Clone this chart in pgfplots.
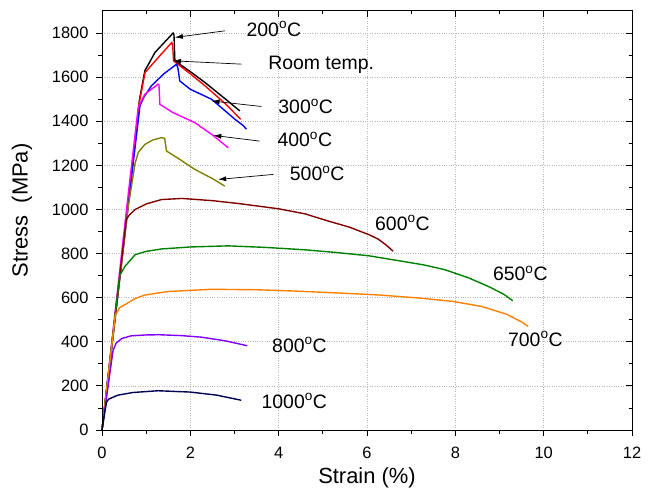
\documentclass[border=0pt]{standalone}
\usepackage{pgfplots}
\pgfplotsset{compat=1.18}
\usepackage{fontspec}
\setmainfont{Liberation Sans}
\usetikzlibrary{arrows.meta}

\definecolor{cMagenta}{RGB}{255,0,255}
\definecolor{cOlive}{RGB}{128,128,0}
\definecolor{cDarkRed}{RGB}{128,0,0}
\definecolor{cGreen}{RGB}{0,128,0}
\definecolor{cOrange}{RGB}{255,128,0}
\definecolor{cPurple}{RGB}{128,0,255}
\definecolor{cNavy}{RGB}{0,0,80}

\newcommand{\ann}{\fontsize{19.5}{22}\selectfont}

\begin{document}
\begin{tikzpicture}
\begin{axis}[
  name=main,
  scale only axis, width=530bp, height=419bp,
  xmin=0, xmax=12, ymin=0, ymax=1900,
  xtick={0,2,...,12}, minor x tick num=1,
  ytick={0,200,...,1800}, minor y tick num=1,
  tick pos=left, tick align=outside,
  major tick length=6bp, minor tick length=3.5bp,
  grid=major, major grid style={gray!55, dotted, line width=0.7pt},
  axis line style={line width=1pt}, tick style={black, line width=0.8pt},
  ticklabel style={font=\fontsize{16.5}{18}\selectfont},
  xticklabel style={yshift=-8bp},
  yticklabel style={xshift=-4bp},
  /pgf/number format/assume math mode=true,
  /pgf/number format/1000 sep={},
  xlabel={Strain (\%)}, ylabel={Stress\ \ (MPa)},
  label style={font=\fontsize{22}{26}\selectfont},
  xlabel style={yshift=-2bp},
  ylabel style={yshift=13bp, xshift=10bp},
  clip=false,
  every axis plot/.append style={line width=1.4pt, no marks},
]
% 200 C
\addplot[black] coordinates {(0,0)(0.3,520)(0.6,1040)(0.85,1500)(0.97,1629)(1.2,1712)(1.4,1755)(1.61,1800)(1.63,1792)(1.65,1674)(2.0,1625)(2.33,1576)(2.8,1500)(3.12,1447)};
% room temperature
\addplot[red] coordinates {(0,0)(0.3,520)(0.6,1040)(0.85,1490)(0.975,1621)(1.3,1695)(1.58,1757)(1.6,1745)(1.62,1674)(2.0,1615)(2.33,1561)(2.8,1478)(3.14,1409)};
% 300 C
\addplot[blue] coordinates {(0,0)(0.3,510)(0.6,1030)(0.86,1470)(0.95,1510)(1.12,1561)(1.4,1615)(1.69,1659)(1.72,1640)(1.76,1583)(2.0,1545)(2.48,1500)(3.01,1409)(3.2,1380)(3.27,1364)};
% 400 C
\addplot[cMagenta] coordinates {(0,0)(0.3,540)(0.6,1080)(0.82,1462)(0.97,1523)(1.15,1550)(1.27,1568)(1.29,1565)(1.31,1477)(1.6,1440)(2.1,1394)(2.5,1338)(2.86,1280)};
% 500 C
\addplot[cOlive] coordinates {(0,0)(0.3,510)(0.6,1020)(0.75,1210)(0.82,1258)(0.97,1295)(1.15,1315)(1.35,1326)(1.42,1322)(1.46,1265)(1.7,1235)(2.1,1182)(2.5,1140)(2.78,1106)};
% 600 C
\addplot[cDarkRed] coordinates {(0,0)(0.3,520)(0.55,955)(0.62,975)(0.75,1000)(1.0,1025)(1.35,1045)(1.81,1050)(2.5,1040)(3.09,1027)(4.0,1003)(4.6,980)(5.13,947)(5.6,920)(6.04,886)(6.25,866)(6.42,841)(6.59,811)};
% 650 C
\addplot[cGreen] coordinates {(0,0)(0.4,700)(0.52,742)(0.75,795)(1.0,810)(1.35,821)(2.0,830)(2.86,835)(3.7,828)(4.6,817)(5.3,805)(6.04,790)(6.8,765)(7.3,748)(7.76,727)(8.3,690)(8.78,648)(9.1,615)(9.3,586)};
% 700 C
\addplot[cOrange] coordinates {(0,0)(0.3,520)(0.4,555)(0.55,572)(0.75,596)(0.97,612)(1.5,628)(2.48,638)(3.5,636)(4.37,630)(5.5,620)(6.29,612)(7.2,598)(7.95,583)(8.6,560)(9.16,525)(9.5,490)(9.65,470)};
% 800 C
\addplot[cPurple] coordinates {(0,0)(0.25,360)(0.32,394)(0.45,415)(0.66,427)(1.0,431)(1.29,432)(1.8,428)(2.25,421)(2.8,404)(3.29,382)};
% 1000 C
\addplot[cNavy] coordinates {(0,0)(0.1,125)(0.15,140)(0.36,158)(0.7,170)(1.27,178)(2.0,172)(2.6,158)(3.15,135)};

% labels and arrows
\begin{scope}[every node/.style={anchor=west, inner sep=0pt, font=\ann},
              arr/.style={-{Latex[length=8bp,width=5bp]}, line width=0.7pt}]
\node at (axis cs:3.27,1818) {200\textsuperscript{o}C};
\draw[arr] (axis cs:2.78,1810) -- (axis cs:1.65,1780);
\node at (axis cs:3.76,1655) {Room temp.};
\draw[arr] (axis cs:3.16,1659) -- (axis cs:1.61,1674);
\node at (axis cs:3.99,1467) {300\textsuperscript{o}C};
\draw[arr] (axis cs:3.61,1467) -- (axis cs:2.48,1492);
\node at (axis cs:3.97,1318) {400\textsuperscript{o}C};
\draw[arr] (axis cs:3.57,1310) -- (axis cs:2.52,1336);
\node at (axis cs:4.25,1164) {500\textsuperscript{o}C};
\draw[arr] (axis cs:3.88,1159) -- (axis cs:2.63,1136);
\node at (axis cs:6.18,939) {600\textsuperscript{o}C};
\node at (axis cs:8.85,709) {650\textsuperscript{o}C};
\node at (axis cs:9.19,412) {700\textsuperscript{o}C};
\node at (axis cs:3.85,386) {800\textsuperscript{o}C};
\node at (axis cs:3.61,132) {1000\textsuperscript{o}C};
\end{scope}
\end{axis}

% mirrored ticks pointing inward on the top and right
\begin{axis}[
  at={(main.south west)}, anchor=south west,
  scale only axis, width=530bp, height=419bp,
  xmin=0, xmax=12, ymin=0, ymax=1900,
  xtick={0,2,...,12}, minor x tick num=1,
  ytick={0,200,...,1800}, minor y tick num=1,
  tick pos=right, tick align=inside,
  major tick length=6bp, minor tick length=3.5bp,
  xticklabels={}, yticklabels={},
  axis line style={line width=1pt}, tick style={black, line width=0.8pt},
]
\end{axis}

\pgfresetboundingbox
\path (main.south west) ++(-102bp,-63bp) rectangle ++(653bp,493bp);
\end{tikzpicture}
\end{document}
